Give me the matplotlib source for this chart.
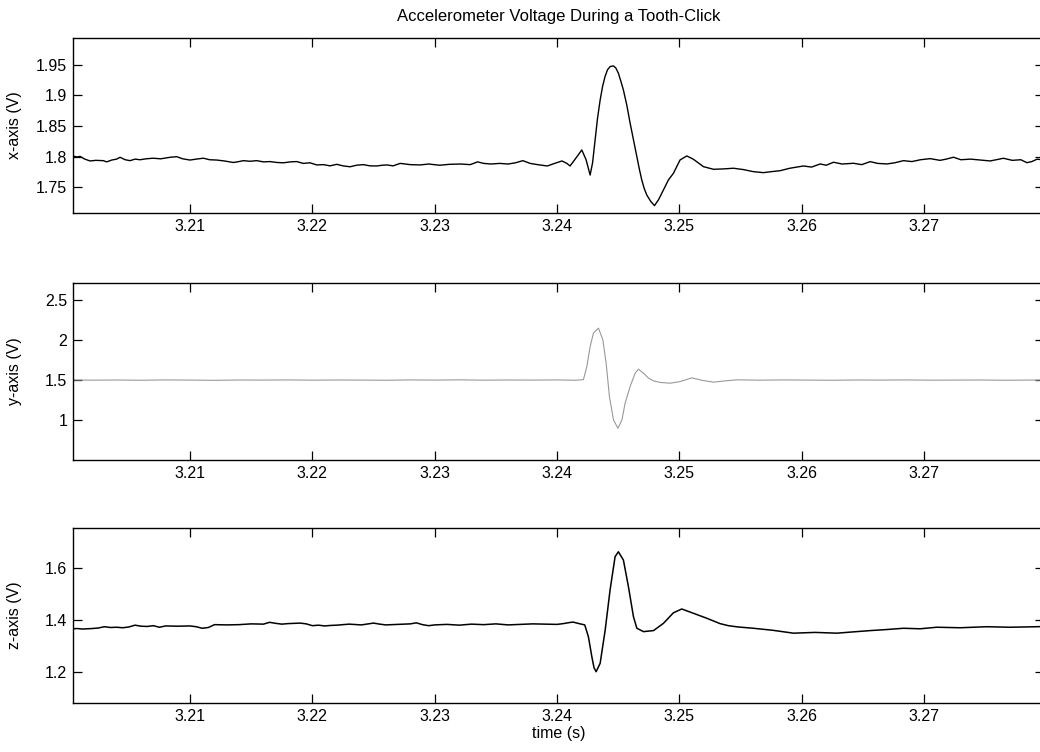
import numpy as np
import matplotlib
matplotlib.use('Agg')
import matplotlib.pyplot as plt
from matplotlib.ticker import FormatStrFormatter

plt.rcParams['font.family'] = ['Liberation Sans', 'DejaVu Sans']
plt.rcParams['font.size'] = 12

#x-axis channel (time, volts)
tx = [3.20041, 3.20080, 3.20101, 3.20140, 3.20183, 3.20230, 3.20291, 3.20319, 3.20360, 3.20400,
      3.20428, 3.20470, 3.20510, 3.20550, 3.20591, 3.20640, 3.20698, 3.20760, 3.20837, 3.20891,
      3.20940, 3.21000, 3.21050, 3.21109, 3.21160, 3.21218, 3.21280, 3.21354, 3.21400, 3.21436,
      3.21490, 3.21545, 3.21600, 3.21654, 3.21710, 3.21763, 3.21820, 3.21872, 3.21926, 3.21980,
      3.22036, 3.22090, 3.22144, 3.22199, 3.22250, 3.22308, 3.22360, 3.22417, 3.22470, 3.22526,
      3.22570, 3.22608, 3.22660, 3.22717, 3.22800, 3.22880, 3.22950, 3.23040, 3.23120, 3.23210,
      3.23290, 3.23350, 3.23400, 3.23460, 3.23530, 3.23600, 3.23660, 3.23720, 3.23780, 3.23840,
      3.23920, 3.23980, 3.24040, 3.24080, 3.24106, 3.24155, 3.24202, 3.24237, 3.24270, 3.24290,
      3.24311, 3.24330, 3.24352, 3.24372, 3.24392, 3.24412, 3.24433, 3.24460, 3.24480, 3.24501,
      3.24520, 3.24542, 3.24570, 3.24597, 3.24625, 3.24652, 3.24672, 3.24692, 3.24712, 3.24733,
      3.24765, 3.24796, 3.24830, 3.24869, 3.24910, 3.24951, 3.25005, 3.25060, 3.25114, 3.25196,
      3.25278, 3.25360, 3.25441, 3.25520, 3.25605, 3.25687, 3.25750, 3.25823, 3.25900, 3.26013,
      3.26080, 3.26150, 3.26200, 3.26259, 3.26330, 3.26422, 3.26490, 3.26559, 3.26620, 3.26695,
      3.26760, 3.26831, 3.26900, 3.26970, 3.27049, 3.27130, 3.27180, 3.27240, 3.27300, 3.27380,
      3.27458, 3.27540, 3.27648, 3.27720, 3.27790, 3.27840, 3.27880, 3.27922, 3.27980]
vx = [1.8010, 1.7995, 1.8005, 1.7960, 1.7930, 1.7940, 1.7935, 1.7915, 1.7945, 1.7960,
      1.7990, 1.7950, 1.7935, 1.7960, 1.7950, 1.7965, 1.7975, 1.7965, 1.7990, 1.8000,
      1.7965, 1.7945, 1.7960, 1.7975, 1.7950, 1.7945, 1.7930, 1.7905, 1.7920, 1.7935,
      1.7925, 1.7935, 1.7915, 1.7920, 1.7905, 1.7900, 1.7915, 1.7920, 1.7890, 1.7900,
      1.7865, 1.7870, 1.7850, 1.7875, 1.7850, 1.7835, 1.7860, 1.7870, 1.7850, 1.7848,
      1.7860, 1.7865, 1.7850, 1.7890, 1.7870, 1.7865, 1.7880, 1.7860, 1.7875, 1.7880,
      1.7870, 1.7915, 1.7890, 1.7880, 1.7890, 1.7880, 1.7900, 1.7935, 1.7890, 1.7870,
      1.7848, 1.7890, 1.7930, 1.7890, 1.7848, 1.7980, 1.8110, 1.7950, 1.7700, 1.7900,
      1.8274, 1.8620, 1.8928, 1.9150, 1.9310, 1.9420, 1.9472, 1.9484, 1.9450, 1.9364,
      1.9240, 1.9090, 1.8840, 1.8547, 1.8270, 1.8000, 1.7800, 1.7620, 1.7480, 1.7374,
      1.7270, 1.7200, 1.7300, 1.7456, 1.7620, 1.7729, 1.7946, 1.8012, 1.7958, 1.7837,
      1.7794, 1.7800, 1.7811, 1.7790, 1.7755, 1.7739, 1.7755, 1.7771, 1.7810, 1.7848,
      1.7830, 1.7881, 1.7860, 1.7909, 1.7880, 1.7892, 1.7870, 1.7919, 1.7890, 1.7881,
      1.7900, 1.7935, 1.7920, 1.7950, 1.7968, 1.7940, 1.7960, 1.7991, 1.7950, 1.7960,
      1.7946, 1.7930, 1.7974, 1.7940, 1.7950, 1.7902, 1.7920, 1.7958, 1.7950]

#y-axis channel
ty = [3.20041, 3.2020, 3.2040, 3.2060, 3.2080, 3.2100, 3.2120, 3.2140, 3.2160, 3.2180,
      3.2200, 3.2220, 3.2240, 3.2260, 3.2280, 3.2300, 3.2320, 3.2340, 3.2360, 3.2380,
      3.2400, 3.2415, 3.24215, 3.24243, 3.24270, 3.24297, 3.24338, 3.24374, 3.24401, 3.24428,
      3.24461, 3.24497, 3.24530, 3.24556, 3.24597, 3.24638, 3.24665, 3.24706, 3.24747, 3.24788,
      3.24843, 3.24924, 3.25005, 3.25101, 3.25196, 3.25278, 3.25373, 3.25469, 3.2565, 3.2585,
      3.2605, 3.2625, 3.2645, 3.2665, 3.2685, 3.2705, 3.2725, 3.2745, 3.2765, 3.2785, 3.2798]
vy = [1.502, 1.499, 1.501, 1.498, 1.502, 1.500, 1.497, 1.501, 1.500, 1.502,
      1.499, 1.501, 1.500, 1.498, 1.502, 1.500, 1.503, 1.499, 1.501, 1.500,
      1.502, 1.498, 1.505, 1.670, 1.920, 2.090, 2.153, 2.006, 1.710, 1.290,
      1.000, 0.895, 1.000, 1.210, 1.420, 1.587, 1.637, 1.587, 1.524, 1.490,
      1.470, 1.461, 1.481, 1.528, 1.494, 1.474, 1.490, 1.503, 1.499, 1.502,
      1.500, 1.498, 1.501, 1.500, 1.502, 1.499, 1.500, 1.501, 1.498, 1.500, 1.501]

#z-axis channel
tz = [3.20041, 3.2008, 3.2012, 3.2016, 3.2020, 3.2025, 3.2030, 3.2035, 3.2040, 3.2045,
      3.2050, 3.2055, 3.2060, 3.2065, 3.2070, 3.2075, 3.2080, 3.2090, 3.2100, 3.2105,
      3.2110, 3.2115, 3.2120, 3.2130, 3.2140, 3.2150, 3.2160, 3.2165, 3.2170, 3.2175,
      3.2180, 3.2190, 3.2195, 3.2200, 3.2205, 3.2210, 3.2215, 3.2220, 3.2230, 3.2240,
      3.2250, 3.2255, 3.2260, 3.2270, 3.2280, 3.2285, 3.2290, 3.2295, 3.2300, 3.2310,
      3.2320, 3.2330, 3.2340, 3.2350, 3.2360, 3.2370, 3.2380, 3.2390, 3.2400, 3.2405,
      3.2410, 3.2413, 3.2418, 3.24226, 3.24256, 3.24284, 3.24302, 3.24319, 3.24352, 3.24393,
      3.24433, 3.24474, 3.24501, 3.24542, 3.24583, 3.24624, 3.24652, 3.24706, 3.24788, 3.24869,
      3.24951, 3.25019, 3.25114, 3.25224, 3.25332, 3.25400, 3.25480, 3.25605, 3.25766, 3.25932,
      3.26109, 3.26286, 3.26420, 3.26559, 3.26690, 3.26831, 3.26967, 3.27104, 3.27294, 3.27513,
      3.27703, 3.27922, 3.2798]
vz = [1.366, 1.367, 1.365, 1.366, 1.367, 1.369, 1.374, 1.371, 1.372, 1.370,
      1.373, 1.380, 1.376, 1.375, 1.378, 1.372, 1.377, 1.376, 1.377, 1.374,
      1.368, 1.371, 1.382, 1.381, 1.382, 1.385, 1.384, 1.391, 1.387, 1.384,
      1.386, 1.388, 1.385, 1.378, 1.380, 1.377, 1.379, 1.380, 1.384, 1.381,
      1.388, 1.384, 1.381, 1.383, 1.385, 1.389, 1.382, 1.378, 1.381, 1.383,
      1.380, 1.384, 1.382, 1.385, 1.381, 1.383, 1.385, 1.384, 1.383, 1.386,
      1.390, 1.392, 1.386, 1.381, 1.335, 1.258, 1.215, 1.200, 1.2325, 1.361,
      1.516, 1.645, 1.664, 1.632, 1.529, 1.413, 1.368, 1.355, 1.359, 1.387,
      1.428, 1.4426, 1.426, 1.4066, 1.386, 1.378, 1.373, 1.368, 1.360, 1.349,
      1.352, 1.349, 1.354, 1.359, 1.363, 1.368, 1.366, 1.372, 1.370, 1.374,
      1.372, 1.374, 1.375]

xticks = [3.21, 3.22, 3.23, 3.24, 3.25, 3.26, 3.27]
xlim = (3.20041, 3.2798)

channels = [
    (tx, vx, 'x-axis (V)', 'black', 1.0, (1.708, 1.994), [1.75, 1.8, 1.85, 1.9, 1.95]),
    (ty, vy, 'y-axis (V)', '#999999', 0.8, (0.496, 2.72), [1, 1.5, 2, 2.5]),
    (tz, vz, 'z-axis (V)', 'black', 1.1, (1.079, 1.756), [1.2, 1.4, 1.6]),
]
# axes boxes in figure fraction: left, bottom, width, height
boxes = [(0.0699, 0.7168, 0.934, 0.2327),
         (0.0699, 0.3883, 0.934, 0.2354),
         (0.0699, 0.0652, 0.934, 0.2327)]

fig = plt.figure(figsize=(10.4, 7.52), dpi=100)
axs = []
for (t, v, lab, col, lw, yl, yt), box in zip(channels, boxes):
    ax = fig.add_axes(box)
    ax.plot(t, v, color=col, lw=lw)
    ax.set_xlim(xlim)
    ax.set_ylim(yl)
    ax.set_xticks(xticks)
    ax.set_yticks(yt)
    ax.yaxis.set_major_formatter(FormatStrFormatter('%g'))
    ax.xaxis.set_major_formatter(FormatStrFormatter('%g'))
    ax.tick_params(direction='in', top=True, right=True, length=6.5, width=0.9, pad=4, labelsize=11.5)
    ax.set_ylabel(lab, fontsize=11.5)
    ax.yaxis.set_label_coords(-0.052, 0.5)
    for s in ax.spines.values():
        s.set_linewidth(1.0)
    axs.append(ax)

axs[0].set_title('Accelerometer Voltage During a Tooth-Click', fontsize=12, pad=12)
axs[2].set_xlabel('time (s)', fontsize=11.5, labelpad=2)

fig.savefig('out.png', dpi=100)
